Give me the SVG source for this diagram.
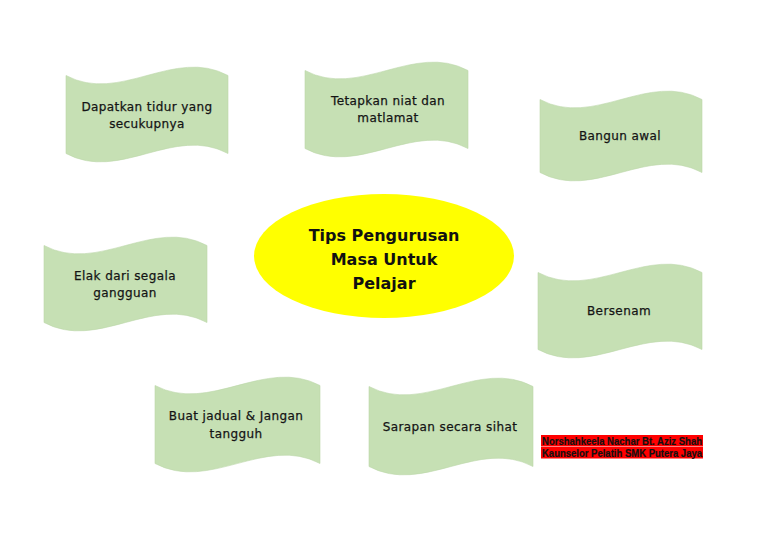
<svg xmlns="http://www.w3.org/2000/svg" width="768" height="543" viewBox="0 0 768 543">
<style>
.wave{fill:#c6e0b4;stroke:#bcd6aa;stroke-width:0.6}
.t{font-family:"DejaVu Sans",Verdana,sans-serif;font-size:12px;letter-spacing:0.4px;fill:#141414;stroke:#141414;stroke-width:0.25;text-anchor:middle}
.c{font-family:"DejaVu Sans",Verdana,sans-serif;font-size:16px;font-weight:bold;fill:#111;text-anchor:middle}
.r{font-family:"Liberation Sans",Arial,sans-serif;font-size:10px;font-weight:bold;fill:#111;stroke:#111;stroke-width:0.2}
</style>
<rect width="768" height="543" fill="#ffffff"/>
<g id="connectors"></g>
<g id="center">
<ellipse cx="384" cy="256" rx="130" ry="62" fill="#ffff00"/>
<text class="c" x="384" y="241">Tips Pengurusan</text>
<text class="c" x="384" y="265">Masa Untuk</text>
<text class="c" x="384" y="289">Pelajar</text>
</g>
<g id="n1">
<path class="wave" d="M66,75.5 C120,104.5 174,46.5 228,75.5 L228,153.5 C174,124.5 120,182.5 66,153.5 Z"/>
<text class="t" x="147" y="111">Dapatkan tidur yang</text>
<text class="t" x="147" y="128">secukupnya</text>
</g>
<g id="n2">
<path class="wave" d="M305,70.5 C359.3,99.5 413.7,41.5 468,70.5 L468,148.5 C413.7,119.5 359.3,177.5 305,148.5 Z"/>
<text class="t" x="388" y="105">Tetapkan niat dan</text>
<text class="t" x="388" y="122">matlamat</text>
</g>
<g id="n3">
<path class="wave" d="M540,99.5 C594,128.5 648,70.5 702,99.5 L702,172.5 C648,143.5 594,201.5 540,172.5 Z"/>
<text class="t" x="620" y="140">Bangun awal</text>
</g>
<g id="n4">
<path class="wave" d="M44,245.5 C98.3,274.5 152.7,216.5 207,245.5 L207,322.5 C152.7,293.5 98.3,351.5 44,322.5 Z"/>
<text class="t" x="125" y="280">Elak dari segala</text>
<text class="t" x="125" y="297">gangguan</text>
</g>
<g id="n5">
<path class="wave" d="M538,272.5 C592.7,301.5 647.3,243.5 702,272.5 L702,349.5 C647.3,320.5 592.7,378.5 538,349.5 Z"/>
<text class="t" x="619" y="315">Bersenam</text>
</g>
<g id="n6">
<path class="wave" d="M155,385.5 C210,414.5 265,356.5 320,385.5 L320,463.5 C265,434.5 210,492.5 155,463.5 Z"/>
<text class="t" x="236" y="420">Buat jadual &amp; Jangan</text>
<text class="t" x="236" y="438">tangguh</text>
</g>
<g id="n7">
<path class="wave" d="M369,386.5 C423.7,415.5 478.3,357.5 533,386.5 L533,466.5 C478.3,437.5 423.7,495.5 369,466.5 Z"/>
<text class="t" x="450" y="431">Sarapan secara sihat</text>
</g>
<g id="credit">
<rect x="541" y="435" width="162" height="11.5" fill="#ff0000"/>
<rect x="541" y="447" width="162" height="11.5" fill="#ff0000"/>
<text class="r" x="542" y="444.5" textLength="160" lengthAdjust="spacingAndGlyphs">Norshahkeela Nachar Bt. Aziz Shah</text>
<text class="r" x="542" y="456.5" textLength="160" lengthAdjust="spacingAndGlyphs">Kaunselor Pelatih SMK Putera Jaya</text>
</g>
</svg>
